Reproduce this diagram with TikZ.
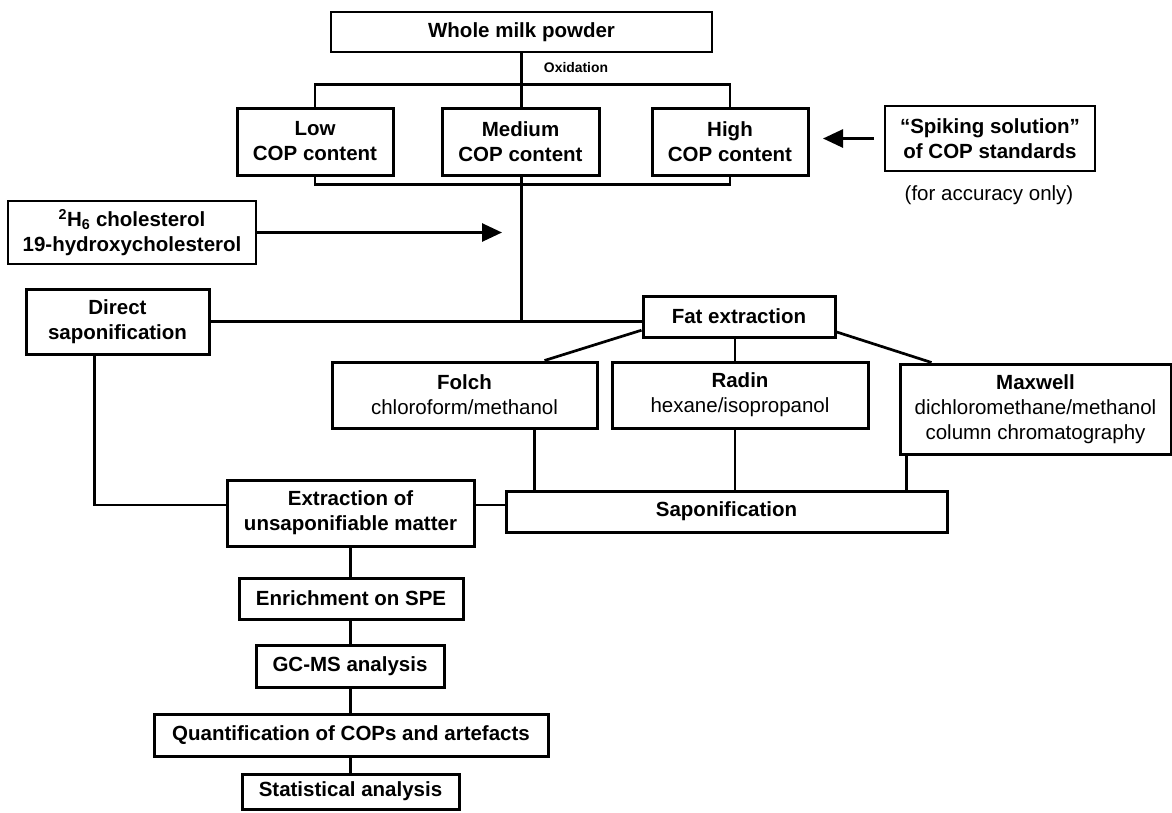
\documentclass[tikz,border=0pt]{standalone}
\usepackage{fontspec}
\setmainfont{Liberation Sans}
\usetikzlibrary{arrows.meta}

\begin{document}
\begin{tikzpicture}[x=1pt,y=-1pt,
  box/.style={draw,line width=3pt,align=center,inner sep=0pt,
    font=\bfseries\fontsize{20.5}{25}\selectfont},
  thinbox/.style={box,line width=2pt},
  link/.style={line width=2.7pt},
  tip/.style={link,-{Triangle[length=20pt,width=18pt]}}]
  \useasboundingbox (0,0) rectangle (1172,812);

  \node[thinbox,minimum width=381pt,minimum height=40pt] (milk) at (521.5,32) {Whole milk powder};
  \node[font=\bfseries\fontsize{13.9}{16}\selectfont] (oxid) at (576,68) {Oxidation};
  \node[box,minimum width=156pt,minimum height=67pt] (low) at (315,141.5) {Low\\COP content};
  \node[box,minimum width=157pt,minimum height=67pt] (med) at (520.5,141.5) {Medium\\COP content};
  \node[box,minimum width=156pt,minimum height=67pt] (high) at (730,141.5) {High\\COP content};
  \node[thinbox,minimum width=210pt,minimum height=65pt] (spike) at (990,138.5) {“Spiking solution”\\of COP standards};
  \node[font=\fontsize{20.5}{25}\selectfont] (acc) at (989,195) {(for accuracy only)};
  \node[thinbox,minimum width=248pt,minimum height=63pt] (std) at (132,232.5)
    {\textsuperscript{2}H\textsubscript{6} cholesterol\\19-hydroxycholesterol};

  \node[box,minimum width=183pt,minimum height=65pt] (direct) at (117.5,321.5) {Direct\\saponification};
  \node[box,minimum width=192pt,minimum height=41pt] (fat) at (739,316.5) {Fat extraction};
  \node[box,minimum width=265pt,minimum height=66pt] (folch) at (464.5,395) {Folch\\{\mdseries chloroform/methanol}};
  \node[box,minimum width=256pt,minimum height=66pt] (radin) at (740,395) {Radin\\{\mdseries hexane/isopropanol}};
  \node[box,minimum width=271pt,minimum height=90pt] (maxwell) at (1035.5,409)
    {Maxwell\\{\mdseries dichloromethane/methanol}\\{\mdseries column chromatography}};

  \node[box,minimum width=247pt,minimum height=66pt] (extr) at (350.5,513) {Extraction of\\unsaponifiable matter};
  \node[box,minimum width=441pt,minimum height=41pt] (sapon) at (726.5,511.5) {Saponification};
  \node[box,minimum width=224pt,minimum height=41pt] (enrich) at (351,598.5) {Enrichment on SPE};
  \node[box,minimum width=188pt,minimum height=42pt] (gcms) at (350,666) {GC-MS analysis};
  \node[box,minimum width=394pt,minimum height=42pt] (quant) at (351,735) {Quantification of COPs and artefacts};
  \node[box,minimum width=217pt,minimum height=35pt] (stat) at (350.5,791.5) {Statistical analysis};

  % oxidation and the three batches
  \draw[link] (milk.south) -- (milk.south |- med.north);
  \draw[link] (low.north) -- ++(0,-22) -| (high.north);
  \draw[link] (low.south) -- ++(0,8) -| (high.south);
  \draw[link] (milk.south |- med.south) -- (milk.south |- direct.east);
  \draw[link] (direct.east) -- (direct.east -| fat.west);

  % internal standards and spiking
  \coordinate (stdend) at (502,232.5);
  \coordinate (spikeend) at (823,138.5);
  \draw[tip] (std.east) -- (stdend);
  \draw[tip] ([xshift=-10pt]spike.west) -- (spikeend);

  % fat extraction methods
  \draw[link] (fat.188) -- ([xshift=80pt]folch.north);
  \draw[link] ([xshift=-4pt]fat.south) coordinate (c) -- (c |- radin.north);
  \draw[link] (fat.-9) -- ([xshift=-104pt]maxwell.north);
  \draw[link] ([xshift=70pt]folch.south) coordinate (f) -- (f |- sapon.north);
  \draw[link] ([xshift=-5pt]radin.south) coordinate (r) -- (r |- sapon.north);
  \draw[link] ([xshift=8pt]maxwell.south west) coordinate (m) -- (m |- sapon.north);
  \draw[link] ([yshift=8pt]extr.east) coordinate (e) -- (e -| sapon.west);
  \draw[link] ([xshift=-23pt]direct.south) |- ([yshift=8pt]extr.west);

  \foreach \a/\b in {extr/enrich,enrich/gcms,gcms/quant,quant/stat}
    \draw[link] (extr.south |- \a.south) -- (extr.south |- \b.north);
\end{tikzpicture}
\end{document}
